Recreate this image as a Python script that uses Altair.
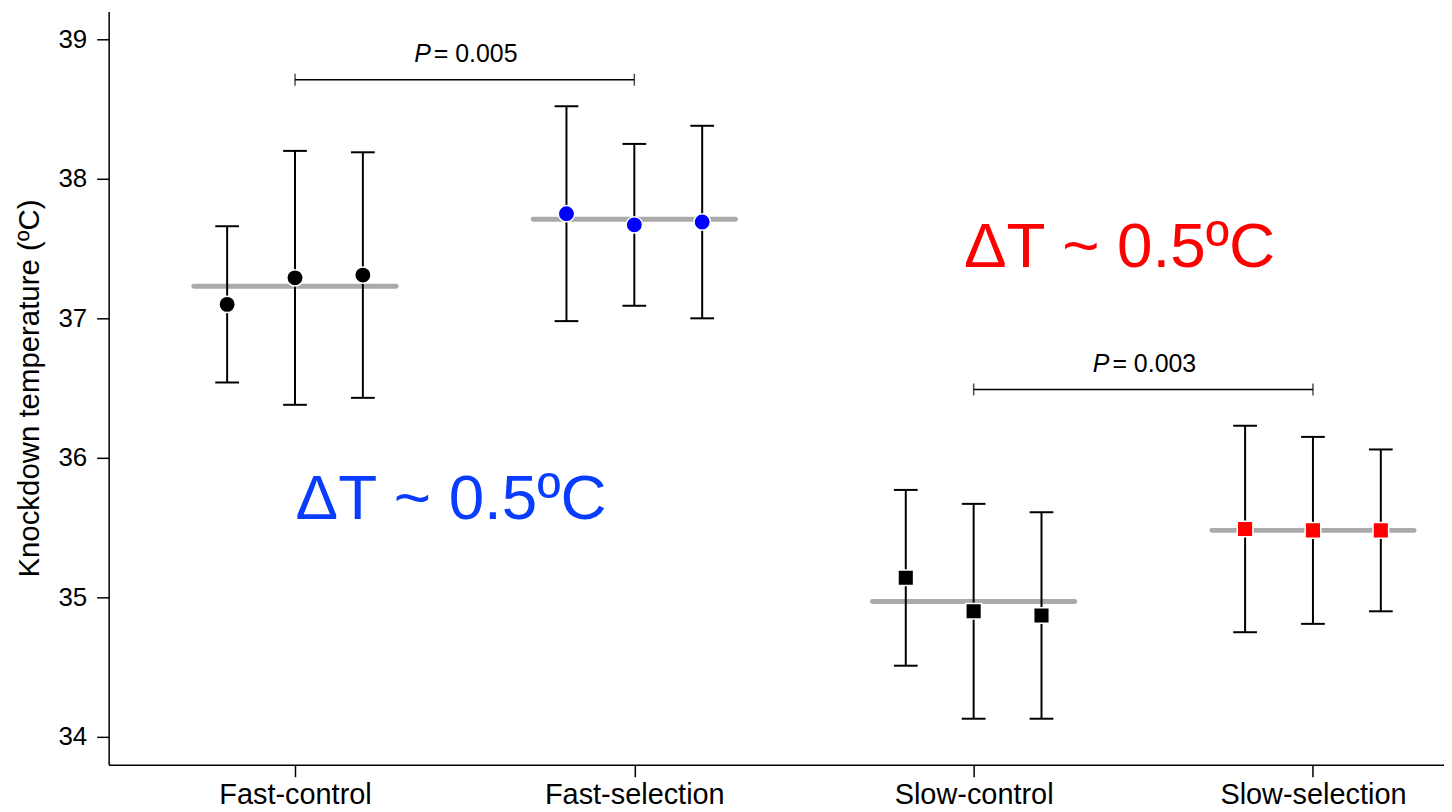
import altair as alt
import pandas as pd

# ---------------- data ----------------
groups = ["Fast-control", "Fast-selection", "Slow-control", "Slow-selection"]
group_pos = [1, 2, 3, 4]
rep_offsets = [-0.2, 0.0, 0.2]

rep_values = [
    [37.10, 37.29, 37.31],
    [37.75, 37.67, 37.69],
    [35.14, 34.90, 34.87],
    [35.49, 35.48, 35.48],
]
rep_upper = [
    [37.66, 38.20, 38.19],
    [38.52, 38.25, 38.38],
    [35.77, 35.67, 35.61],
    [36.23, 36.15, 36.06],
]
rep_lower = [
    [36.54, 36.38, 36.43],
    [36.98, 37.09, 37.00],
    [34.51, 34.13, 34.13],
    [34.75, 34.81, 34.90],
]
group_means = [37.23, 37.71, 34.97, 35.48]
point_shapes = ["circle", "circle", "square", "square"]
point_colors = ["#000000", "#0000ff", "#000000", "#ff0000"]

# significance brackets
bracket_from = [1, 3]
bracket_to = [2, 4]
bracket_y = [38.71, 36.49]
bracket_p = ["= 0.005", "= 0.003"]

# annotations
delta_text = ["ΔT ~ 0.5ºC", "ΔT ~ 0.5ºC"]
delta_x = [1.46, 3.43]
delta_y = [35.70, 37.50]
delta_color = ["#0a3cff", "#ff0000"]

# ---------------- tables ----------------
rows = []
for g, pos, vals, ups, los, shp, col in zip(groups, group_pos, rep_values, rep_upper,
                                            rep_lower, point_shapes, point_colors):
    for off, v, u, l in zip(rep_offsets, vals, ups, los):
        rows.append({"group": g, "x": pos + off, "v": v, "hi": u, "lo": l,
                     "shape": shp, "color": col})
reps = pd.DataFrame(rows)
CAP = 0.035
reps["xl"] = reps["x"] - CAP
reps["xr"] = reps["x"] + CAP

MEAN_HALF = 0.298
means = pd.DataFrame({"group": groups, "x1": [p - MEAN_HALF for p in group_pos],
                      "x2": [p + MEAN_HALF for p in group_pos], "m": group_means})

br = pd.DataFrame({"x1": bracket_from, "x2": bracket_to, "y": bracket_y, "p": bracket_p})
br["xc"] = (br["x1"] + br["x2"]) / 2
br_ends = pd.DataFrame({"x": bracket_from + bracket_to, "y": bracket_y + bracket_y})
deltas = pd.DataFrame({"t": delta_text, "x": delta_x, "y": delta_y, "c": delta_color})

FONT = "Liberation Sans"
xscale = alt.Scale(domain=[0.4508, 4.3862], nice=False, zero=False)
yscale = alt.Scale(domain=[33.8, 39.2], nice=False, zero=False)

label_expr = ("datum.value == 1 ? 'Fast-control' : datum.value == 2 ? 'Fast-selection' : "
              "datum.value == 3 ? 'Slow-control' : datum.value == 4 ? 'Slow-selection' : ''")

x_axis = alt.Axis(values=group_pos, labelExpr=label_expr, title=None, grid=False,
                  labelFontSize=29, labelPadding=4, tickSize=12, labelFont=FONT,
                  labelLimit=0, labelOverlap=False)
y_axis = alt.Axis(values=[34, 35, 36, 37, 38, 39], title="Knockdown temperature (ºC)",
                  grid=False, labelFontSize=26, labelPadding=10, tickSize=12,
                  titleFontSize=29.5, titleFontWeight="normal", titlePadding=13,
                  labelFont=FONT, titleFont=FONT)

base_x = alt.X("x:Q", scale=xscale, axis=x_axis)

mean_lines = alt.Chart(means).mark_rule(color="#aaaaaa", strokeWidth=5, strokeCap="round").encode(
    x=alt.X("x1:Q", scale=xscale, axis=x_axis), x2="x2:Q",
    y=alt.Y("m:Q", scale=yscale, axis=y_axis))

err = alt.Chart(reps).mark_rule(color="black", strokeWidth=2).encode(
    x=base_x, y=alt.Y("lo:Q", scale=yscale, axis=y_axis), y2="hi:Q")
cap_hi = alt.Chart(reps).mark_rule(color="black", strokeWidth=2).encode(
    x=alt.X("xl:Q", scale=xscale, axis=x_axis), x2="xr:Q", y=alt.Y("hi:Q", scale=yscale, axis=y_axis))
cap_lo = alt.Chart(reps).mark_rule(color="black", strokeWidth=2).encode(
    x=alt.X("xl:Q", scale=xscale, axis=x_axis), x2="xr:Q", y=alt.Y("lo:Q", scale=yscale, axis=y_axis))

circles = alt.Chart(reps).transform_filter("datum.shape == 'circle'").mark_point(
    shape="circle", filled=True, size=270, stroke="white", strokeWidth=1.5, opacity=1).encode(
    x=base_x, y=alt.Y("v:Q", scale=yscale, axis=y_axis),
    fill=alt.Color("color:N", scale=None, legend=None))
squares = alt.Chart(reps).transform_filter("datum.shape == 'square'").mark_point(
    shape="square", filled=True, size=245, stroke="white", strokeWidth=1.5, opacity=1).encode(
    x=base_x, y=alt.Y("v:Q", scale=yscale, axis=y_axis),
    fill=alt.Color("color:N", scale=None, legend=None))

br_line = alt.Chart(br).mark_rule(color="black", strokeWidth=1.5).encode(
    x=alt.X("x1:Q", scale=xscale, axis=x_axis), x2="x2:Q", y=alt.Y("y:Q", scale=yscale, axis=y_axis))
br_tick = alt.Chart(br_ends).mark_tick(color="black", thickness=1.5, size=12, orient="vertical").encode(
    x=base_x, y=alt.Y("y:Q", scale=yscale, axis=y_axis))
br_P = alt.Chart(br).mark_text(text="P", fontStyle="italic", font=FONT, fontSize=25, align="right",
                               baseline="alphabetic", dx=-34, dy=-18, color="black").encode(
    x=alt.X("xc:Q", scale=xscale, axis=x_axis), y=alt.Y("y:Q", scale=yscale, axis=y_axis))
br_txt = alt.Chart(br).mark_text(font=FONT, fontSize=25, align="left", baseline="alphabetic",
                                 dx=-31, dy=-18, color="black").encode(
    x=alt.X("xc:Q", scale=xscale, axis=x_axis), y=alt.Y("y:Q", scale=yscale, axis=y_axis), text="p:N")

delta = alt.Chart(deltas).mark_text(font=FONT, fontSize=64, align="center", baseline="middle").encode(
    x=base_x, y=alt.Y("y:Q", scale=yscale, axis=y_axis), text="t:N",
    color=alt.Color("c:N", scale=None, legend=None))

chart = alt.layer(mean_lines, err, cap_hi, cap_lo, circles, squares, br_line, br_tick,
                  br_P, br_txt, delta).properties(
    width=1340, height=756,
    autosize=alt.AutoSizeParams(type="none"),
    padding={"left": 101, "top": 2, "right": 0, "bottom": 44},
).configure_view(stroke=None).configure_axis(
    domainColor="black", domainWidth=1.5, tickColor="black", tickWidth=1.5,
    labelColor="black", titleColor="black")

chart.save("out.html", embed_options={"renderer": "svg", "actions": False})
